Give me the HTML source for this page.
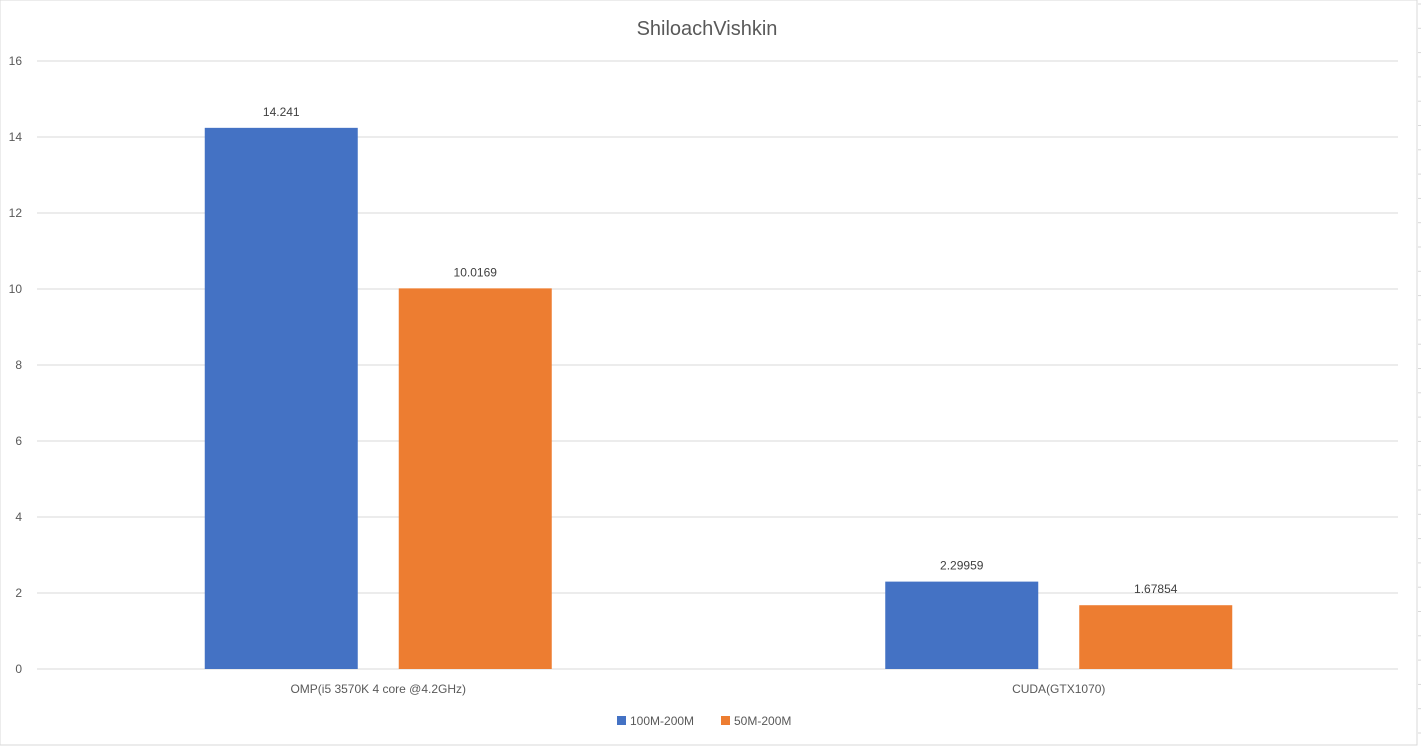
<!DOCTYPE html>
<html><head><meta charset="utf-8"><style>
body{margin:0;background:#fff;font-family:"Liberation Sans",sans-serif;}
svg text{font-family:"Liberation Sans",sans-serif;}
</style></head><body>
<svg width="1421" height="747">
<rect x="0" y="0" width="1417" height="745" fill="#fff" stroke="#d9d9d9"/>
<g id="rt"></g>
<text x="707" y="35" text-anchor="middle" font-size="20" fill="#595959">ShiloachVishkin</text>
<g id="grid"></g><g id="bars"></g><g id="labels"></g>
<g>
<rect x="617" y="716" width="9" height="9" fill="#4472c4"/>
<text x="630" y="725" font-size="12" fill="#595959">100M-200M</text>
<rect x="721" y="716" width="9" height="9" fill="#ed7d31"/>
<text x="734" y="725" font-size="12" fill="#595959">50M-200M</text>
</g>
</svg>
<script>
const categories=["OMP(i5 3570K 4 core @4.2GHz)","CUDA(GTX1070)"];
const seriesA=[14.241,2.29959];
const seriesB=[10.0169,1.67854];
const labelsA=["14.241","2.29959"];
const labelsB=["10.0169","1.67854"];
const ticks=[0,2,4,6,8,10,12,14,16];
const ns="http://www.w3.org/2000/svg";
const X0=37,X1=1398,Y0=669,Y16=61;
const y=v=>Y0-(v/16)*(Y0-Y16);
const cw=(X1-X0)/categories.length;
const cx=i=>X0+1+cw*(i+0.5);
function mk(t,a,p){const e=document.createElementNS(ns,t);for(const k in a)e.setAttribute(k,a[k]);p.appendChild(e);return e;}
const g=document.getElementById('grid');
ticks.forEach(t=>{
 const l=mk('line',{x1:X0,x2:X1,y1:y(t),y2:y(t),stroke:'#d9d9d9','stroke-width':1},g);
 
 
 const tx=mk('text',{x:22,y:y(t)+4,'text-anchor':'end','font-size':12,fill:'#595959'},g);
 tx.textContent=t;
 
 
});
const rt=document.getElementById('rt');
for(let yy=4;yy<745;yy+=24.3){mk('line',{x1:1418,x2:1421,y1:yy,y2:yy,stroke:'#d9d9d9'},rt);}
const b=document.getElementById('bars'),lb=document.getElementById('labels');
const bw=153,gap=41;
categories.forEach((c,i)=>{
 [[seriesA,labelsA,'#4472c4','a'],[seriesB,labelsB,'#ed7d31','b']].forEach((s,j)=>{
  const x=j==0?cx(i)-gap/2-bw:cx(i)+gap/2;
  const r=mk('rect',{x:x,y:y(s[0][i]),width:bw,height:Y0-y(s[0][i]),fill:s[2]},b);
  
  
  const t=mk('text',{x:x+bw/2,y:y(s[0][i])-12,'text-anchor':'middle','font-size':12,fill:'#404040'},lb);
  t.textContent=s[1][i];
  
  
 });
 const t=mk('text',{x:cx(i),y:693,'text-anchor':'middle','font-size':12,fill:'#595959'},lb);
 t.textContent=c;
 
 
});
</script>
</body></html>
